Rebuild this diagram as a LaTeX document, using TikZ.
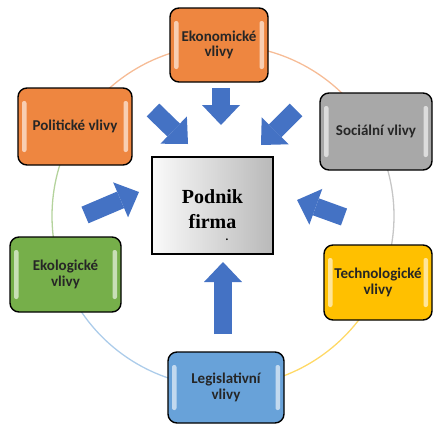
\documentclass[tikz,border=0pt]{standalone}
\usepackage{fontspec}
\setmainfont{Carlito}
\newfontfamily\patkove{Liberation Serif}
\usetikzlibrary{positioning,arrows.meta,calc}
\definecolor{oranz}{HTML}{EE8640}
\definecolor{seda}{HTML}{A8A8A8}
\definecolor{zelena}{HTML}{76AF4A}
\definecolor{zluta}{HTML}{FFC000}
\definecolor{modra}{HTML}{68A2D9}
\definecolor{sipkaModra}{HTML}{4472C4}
\newcommand\sipka[2]{%
\draw[line width=18pt, sipkaModra, -{Triangle[length=20pt,width=38pt,line width=0pt]}] (#1) -- (#2);
}

\begin{document}
\begin{tikzpicture}[x=1pt,y=-1pt,
    vliv/.style={draw=black, line width=1.4pt, rounded corners=9pt, align=center,
      inner sep=2pt, font=\bfseries\fontsize{15}{15.5}\selectfont, text=black!85,
      path picture={
        \fill[white, opacity=.6, rounded corners=2pt]
          ($(path picture bounding box.north west)+(4pt,-13pt)$) rectangle
          ($(path picture bounding box.south west)+(8.5pt,13pt)$);
        \fill[white, opacity=.6, rounded corners=2pt]
          ($(path picture bounding box.north east)+(-8.5pt,-13pt)$) rectangle
          ($(path picture bounding box.south east)+(-4pt,13pt)$);
      }},
    podnikbox/.style={draw=black, line width=1.6pt, left color=gray!4, right color=gray!55,
      align=center, text height=46pt, font=\patkove\bfseries\fontsize{20}{25}\selectfont}]
  \useasboundingbox (0,0) rectangle (433,426);

  \def\Sx{223} % stred kruhu
  \def\Sy{216}
  \def\R{171} % polomer kruhu

  % kruh z barevnych oblouku
  \foreach \a/\b/\c in {90/149/oranz!55, 149/201/zelena!55, 201/270/modra!55,
                        270/337/zluta!60, 337/389/seda!65, 29/90/oranz!55}
    \draw[\c, line width=1.3pt] plot[domain=\a:\b, samples=40]
      ({\Sx+\R*cos(\x)},{\Sy-\R*sin(\x)});

  % vlivy
  \node[vliv, fill=oranz, minimum width=98pt, minimum height=74pt] (ekonomicke) at (219,45) {Ekonomické\\vlivy};
  \node[vliv, fill=oranz, minimum width=114pt, minimum height=77pt] (politicke) at (75,126.5) {Politické vlivy};
  \node[vliv, fill=seda, minimum width=112pt, minimum height=77pt] (socialni) at (376,131.5) {Sociální vlivy};
  \node[vliv, fill=zelena, minimum width=111pt, minimum height=75pt] (ekologicke) at (65.5,274.5) {Ekologické\\vlivy};
  \node[vliv, fill=zluta, minimum width=108pt, minimum height=75pt] (technologicke) at (378,282.5) {Technologické\\vlivy};
  \node[vliv, fill=modra, minimum width=116pt, minimum height=71pt] (legislativni) at (226,387.5) {Legislativní\\vlivy};

  % podnik
  \node[podnikbox, minimum width=121pt, minimum height=97pt] (podnik) at (212.5,205.5) {Podnik\\firma};
  \node[anchor=base, inner sep=0pt, font=\patkove\bfseries\fontsize{11}{11}\selectfont] (tecka) at (227,240) {.};

  % sipky
  \coordinate (ekoA) at (221,88);   \coordinate (ekoB) at (221,125);
  \coordinate (polA) at (153,110);  \coordinate (polB) at (188,144);
  \coordinate (socA) at (296,110);  \coordinate (socB) at (261,145);
  \coordinate (eklA) at (85,215);   \coordinate (eklB) at (139,192);
  \coordinate (tecA) at (344,217);  \coordinate (tecB) at (297,200);
  \coordinate (legA) at (223,334);  \coordinate (legB) at (223,262);
  \sipka{ekoA}{ekoB}
  \sipka{polA}{polB}
  \sipka{socA}{socB}
  \sipka{eklA}{eklB}
  \sipka{tecA}{tecB}
  \sipka{legA}{legB}
\end{tikzpicture}
\end{document}
